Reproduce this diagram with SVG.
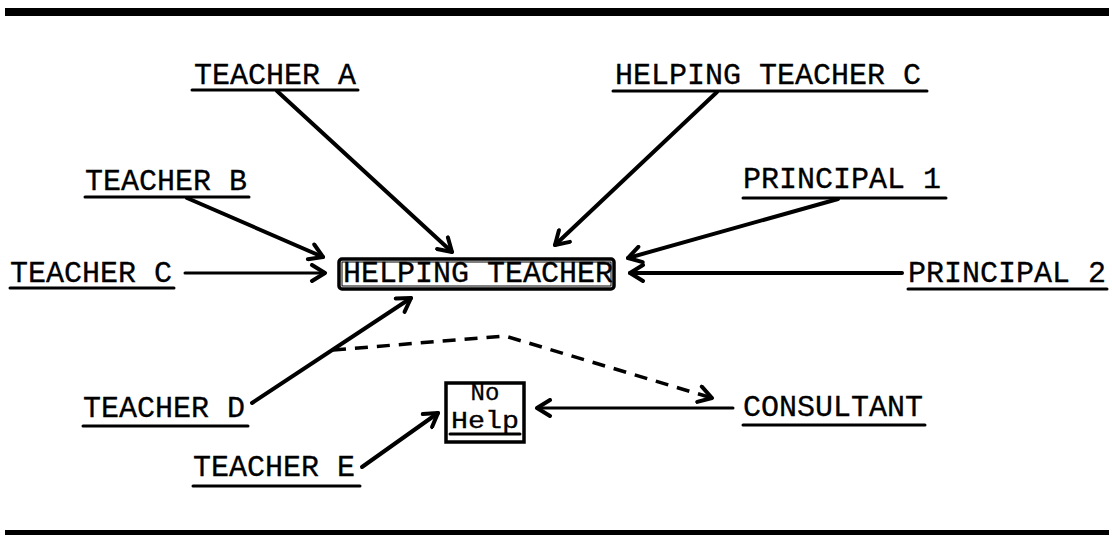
<svg xmlns="http://www.w3.org/2000/svg" width="1112" height="536" viewBox="0 0 1112 536">
  <style>
    .lbl { font-family: "Liberation Mono", "DejaVu Sans Mono", monospace; font-size: 30px; fill: #000; stroke: #000; stroke-width: 0.3; }
    .small { font-size: 24px; }
    .ul { stroke: #000; stroke-width: 3; stroke-linecap: round; }
    .edge { fill: none; stroke: #000; stroke-width: 4; stroke-linecap: round; marker-end: url(#ah); }
    .thin { stroke-width: 3; }
    .dash { stroke-width: 3.5; stroke-dasharray: 13 9; stroke-linecap: butt; }
    .box { fill: #fff; stroke: #000; stroke-width: 3.5; }
  </style>
  <defs>
    <marker id="ah" viewBox="0 0 20 20" refX="16" refY="10" markerWidth="20" markerHeight="20" markerUnits="userSpaceOnUse" orient="auto">
      <path d="M3,2 L16,10 L3,18" fill="none" stroke="#000" stroke-width="4" stroke-linecap="round" stroke-linejoin="round"/>
    </marker>
  </defs>
  <rect width="1112" height="536" fill="#fff"/>

  <!-- heavy rules above and below -->
  <rect x="5" y="8" width="1104" height="8" fill="#000"/>
  <rect x="5" y="530" width="1104" height="5" fill="#000"/>

  <!-- connectors -->
  <g id="connectors">
    <line class="edge" x1="277" y1="91" x2="452" y2="252"/>
    <line class="edge" x1="717" y1="92" x2="555" y2="245"/>
    <line class="edge" x1="187" y1="198" x2="323" y2="257"/>
    <line class="edge" x1="838" y1="199" x2="628" y2="258"/>
    <line class="edge thin" x1="185" y1="273" x2="325" y2="273"/>
    <line class="edge" x1="902" y1="273" x2="630" y2="273"/>
    <line class="edge" x1="252" y1="403" x2="411" y2="298"/>
    <line class="edge" x1="362" y1="467" x2="438" y2="413"/>
    <line class="edge thin" x1="733" y1="408" x2="537" y2="408"/>
    <path class="edge dash" d="M333,350 L505,336 L712,398"/>
  </g>

  <!-- nodes -->
  <g id="teacher-a">
    <text class="lbl" x="194" y="84">TEACHER A</text>
    <line class="ul" x1="192" y1="90" x2="358" y2="90"/>
  </g>
  <g id="helping-teacher-c">
    <text class="lbl" x="615" y="84">HELPING TEACHER C</text>
    <line class="ul" x1="613" y1="91" x2="927" y2="91"/>
  </g>
  <g id="teacher-b">
    <text class="lbl" x="85" y="190">TEACHER B</text>
    <line class="ul" x1="85" y1="197" x2="249" y2="197"/>
  </g>
  <g id="principal-1">
    <text class="lbl" x="743" y="188">PRINCIPAL 1</text>
    <line class="ul" x1="743" y1="198" x2="946" y2="198"/>
  </g>
  <g id="teacher-c">
    <text class="lbl" x="10" y="282">TEACHER C</text>
    <line class="ul" x1="10" y1="288" x2="174" y2="288"/>
  </g>
  <g id="helping-teacher">
    <rect class="box" x="339" y="259" width="275" height="30" rx="3"/>
    <rect x="342" y="262" width="269" height="24" fill="none" stroke="#000" stroke-width="1"/>
    <text class="lbl" x="343" y="282" textLength="270" lengthAdjust="spacingAndGlyphs">HELPING TEACHER</text>
  </g>
  <g id="principal-2">
    <text class="lbl" x="908" y="282">PRINCIPAL 2</text>
    <line class="ul" x1="908" y1="289" x2="1107" y2="289"/>
  </g>
  <g id="teacher-d">
    <text class="lbl" x="83" y="417">TEACHER D</text>
    <line class="ul" x1="83" y1="426" x2="248" y2="426"/>
  </g>
  <g id="no-help">
    <rect class="box" x="446" y="383" width="78" height="59"/>
    <text class="lbl small" x="485" y="400" text-anchor="middle">No</text>
    <text class="lbl small" x="485" y="428" text-anchor="middle" textLength="68" lengthAdjust="spacingAndGlyphs">Help</text>
    <line class="ul" x1="450" y1="434" x2="520" y2="434"/>
  </g>
  <g id="consultant">
    <text class="lbl" x="743" y="416">CONSULTANT</text>
    <line class="ul" x1="743" y1="425" x2="925" y2="425"/>
  </g>
  <g id="teacher-e">
    <text class="lbl" x="193" y="476">TEACHER E</text>
    <line class="ul" x1="193" y1="486" x2="360" y2="486"/>
  </g>
</svg>
